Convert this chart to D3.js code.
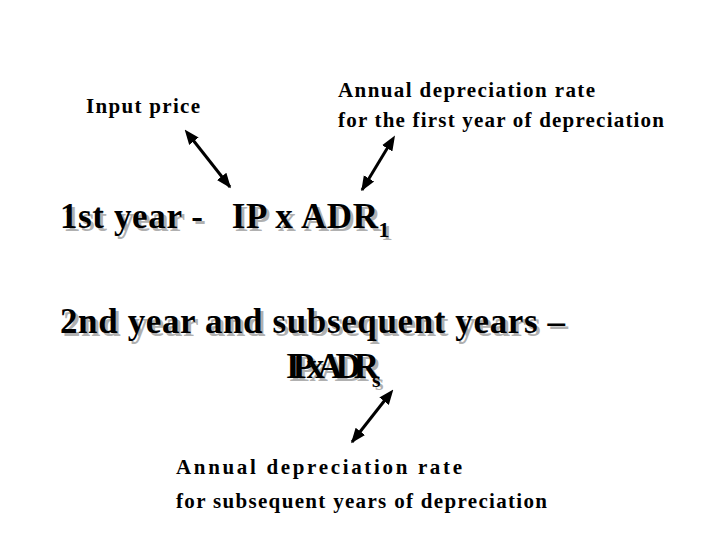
<!DOCTYPE html>
<html><head><meta charset="utf-8">
<script src="https://cdn.jsdelivr.net/npm/d3@7"></script>
<style>body{margin:0;background:#fff}</style></head>
<body><svg id="c" width="720" height="540"></svg>
<script>
const labels = [
  {t:"Input price", x:86, y:113, w:114},
  {t:"Annual depreciation rate", x:338, y:97, w:257},
  {t:"for the first year of depreciation", x:338, y:127, w:326},
  {t:"Annual depreciation rate", x:176, y:474, w:286},
  {t:"for subsequent years of depreciation", x:176, y:508, w:371}
];
const formulas = [
  {t:"1st year -   IP x ADR", sub:"1", x:60, y:228, w:318},
  {t:"2nd year and subsequent years –", sub:"", x:60, y:333, w:505},
  {t:"IP x ADR", sub:"s", x:286, y:378, w:93}
];
const arrows = [[193,140,230,187],[388,147,362,190],[385,400,352,442]];

const svg = d3.select("#c");
const defs = svg.append("defs");
["s","e"].forEach(k=>defs.append("marker").attr("id","m"+k).attr("viewBox","0 0 10 10")
  .attr("refX",k=="e"?9:1).attr("refY",5).attr("markerWidth",5).attr("markerHeight",5)
  .attr("orient","auto-start-reverse").append("path").attr("d","M0,1L10,5L0,9z").attr("fill","#000"));
svg.selectAll("line.a").data(arrows).join("line").attr("class","a")
  .attr("x1",d=>d[0]).attr("y1",d=>d[1]).attr("x2",d=>d[2]).attr("y2",d=>d[3])
  .attr("stroke","#000").attr("stroke-width",3)
  .attr("marker-start","url(#ms)").attr("marker-end","url(#me)");
svg.selectAll("text.l").data(labels).join("text").attr("class","l")
  .attr("x",d=>d.x).attr("y",d=>d.y).attr("font-size",21)
  .attr("textLength",d=>d.w).attr("lengthAdjust","spacing")
  .attr("font-family","Liberation Serif").attr("font-weight","bold").text(d=>d.t);
svg.selectAll("text.f").data(formulas).join("text").attr("class","f")
  .attr("x",d=>d.x).attr("y",d=>d.y).attr("font-size",35)
  .attr("font-family","Liberation Serif").attr("font-weight","bold")
  .style("white-space","pre").style("text-shadow","3px 3px 0 #b0b0b0")
  .each(function(d){
    const t=d3.select(this);
    t.append("tspan").attr("textLength",d.w).attr("lengthAdjust","spacing").text(d.t);
    if(d.sub) t.append("tspan").attr("dy",9).attr("font-size",22).text(d.sub);
  });
</script></body></html>
